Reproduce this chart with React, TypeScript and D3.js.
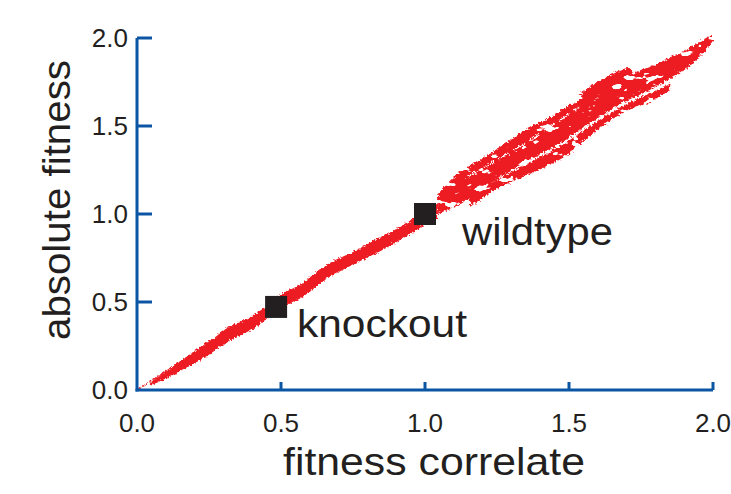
import React from "react";
import * as d3 from "d3";

// ---- data (data units) ----
const xTicks = [0, 0.5, 1.0, 1.5, 2.0];
const yTicks = [0, 0.5, 1.0, 1.5, 2.0];

// red point cloud, described as strands: [x, yLow, yHigh]
const lowerBand: [number, number, number][] = [
  [0.045, 0.023, 0.04],
  [0.097, 0.062, 0.102],
  [0.149, 0.108, 0.162],
  [0.208, 0.159, 0.232],
  [0.271, 0.225, 0.3],
  [0.323, 0.282, 0.362],
  [0.392, 0.338, 0.414],
  [0.444, 0.396, 0.47],
  [0.497, 0.47, 0.54],
  [0.566, 0.52, 0.6],
  [0.67, 0.643, 0.722],
  [0.757, 0.718, 0.79],
  [0.844, 0.788, 0.868],
  [0.913, 0.852, 0.925],
  [0.983, 0.922, 0.998],
  [1.042, 0.977, 1.05],
];
const mainBand: [number, number, number][] = [
  [1.042, 1.0, 1.1],
  [1.087, 1.03, 1.19],
  [1.132, 1.07, 1.25],
  [1.191, 1.12, 1.305],
  [1.25, 1.2, 1.37],
  [1.3125, 1.26, 1.44],
  [1.365, 1.31, 1.495],
  [1.434, 1.37, 1.55],
  [1.479, 1.41, 1.595],
  [1.573, 1.515, 1.68],
  [1.677, 1.623, 1.765],
  [1.792, 1.714, 1.845],
  [1.91, 1.83, 1.935],
  [1.972, 1.928, 1.994],
  [2.0, 1.985, 2.017],
];
const lowerStrand: [number, number, number][] = [
  [1.156, 1.04, 1.1],
  [1.25, 1.145, 1.195],
  [1.365, 1.228, 1.295],
  [1.479, 1.32, 1.395],
  [1.573, 1.445, 1.5],
  [1.677, 1.565, 1.605],
  [1.792, 1.646, 1.695],
  [1.851, 1.703, 1.737],
];
const offshoot: [number, number, number][] = [
  [1.531, 1.63, 1.675],
  [1.59, 1.67, 1.742],
  [1.642, 1.705, 1.788],
  [1.705, 1.773, 1.83],
  [1.719, 1.795, 1.818],
];
// white gaps inside the cloud: [x, y]
const innerGap: [number, number][] = [
  [1.146, 1.21],
  [1.365, 1.42],
  [1.538, 1.608],
];
// thin line from the origin
const thinLine: [number, number][] = [
  [0, 0],
  [0.22, 0.235],
];
// highlighted genotypes
const markers = [
  { name: "knockout", x: 0.483, y: 0.472 },
  { name: "wildtype", x: 1.0, y: 1.0 },
];

const W = 731;
const H = 494;
const AXIS = "#0b56a4";
const RED = "#ed1c24";
const INK = "#231f20";
const FONT = "'Liberation Sans', Arial, Helvetica, sans-serif";

export default function App() {
  const x = d3.scaleLinear().domain([0, 2]).range([137, 713]);
  const y = d3.scaleLinear().domain([0, 2]).range([390, 38]);

  const area = d3
    .area<[number, number, number]>()
    .x((d) => x(d[0]))
    .y0((d) => y(d[1]))
    .y1((d) => y(d[2]))
    .curve(d3.curveCatmullRom);
  const line = d3
    .line<[number, number]>()
    .x((d) => x(d[0]))
    .y((d) => y(d[1]));
  const smooth = d3
    .line<[number, number]>()
    .x((d) => x(d[0]))
    .y((d) => y(d[1]))
    .curve(d3.curveCatmullRom);

  const sq = 22;

  return (
    <svg
      width={W}
      height={H}
      style={{ position: "absolute", left: 0, top: 0, background: "#fff" }}
      fontFamily={FONT}
    >
      <defs>
        <filter id="rough" x="-5%" y="-5%" width="110%" height="110%">
          <feTurbulence type="fractalNoise" baseFrequency="0.45" numOctaves="2" seed="3" result="n" />
          <feDisplacementMap in="SourceGraphic" in2="n" scale="5" xChannelSelector="R" yChannelSelector="G" />
        </filter>
        <filter id="roughHoles" x="-5%" y="-5%" width="110%" height="110%">
          <feTurbulence type="fractalNoise" baseFrequency="0.45" numOctaves="2" seed="3" result="n" />
          <feDisplacementMap in="SourceGraphic" in2="n" scale="6" xChannelSelector="R" yChannelSelector="G" result="d" />
          <feTurbulence type="fractalNoise" baseFrequency="0.07 0.12" numOctaves="3" seed="11" result="n2" />
          <feColorMatrix
            in="n2"
            type="matrix"
            values="0 0 0 0 0  0 0 0 0 0  0 0 0 0 0  -22 0 0 0 15.2"
            result="mask"
          />
          <feComposite in="d" in2="mask" operator="in" />
        </filter>
      </defs>

      {/* red cloud */}
      <g filter="url(#rough)">
        <path d={line(thinLine) ?? ""} stroke={RED} strokeWidth={1} fill="none" />
        <path d={area(lowerBand) ?? ""} fill={RED} />
      </g>
      <g filter="url(#roughHoles)">
        <path d={area(mainBand) ?? ""} fill={RED} />
        <path d={area(lowerStrand) ?? ""} fill={RED} />
        <path d={area(offshoot) ?? ""} fill={RED} />
        <path
          d={smooth(innerGap) ?? ""}
          stroke="#fff"
          strokeWidth={1.5}
          strokeDasharray="12 6"
          fill="none"
        />
      </g>

      {/* markers */}
      {markers.map((m) => (
        <rect key={m.name} x={x(m.x) - sq / 2} y={y(m.y) - sq / 2} width={sq} height={sq} fill={INK} />
      ))}
      <text x={462} y={245} fontSize={39} fill={INK} textLength={151} lengthAdjust="spacingAndGlyphs">
        wildtype
      </text>
      <text x={297} y={337} fontSize={39} fill={INK} textLength={170} lengthAdjust="spacingAndGlyphs">
        knockout
      </text>

      {/* axes */}
      <g stroke={AXIS} strokeWidth={3} fill="none">
        <line x1={x(0)} x2={x(0)} y1={y(2)} y2={y(0) + 1.5} />
        <line x1={x(0) - 1.5} x2={x(2)} y1={y(0)} y2={y(0)} />
        {yTicks
          .filter((t) => t > 0)
          .map((t) => (
            <line key={"yt" + t} x1={x(0)} x2={x(0) + 15} y1={y(t)} y2={y(t)} />
          ))}
        {xTicks
          .filter((t) => t > 0)
          .map((t) => (
            <line key={"xt" + t} x1={x(t)} x2={x(t)} y1={y(0)} y2={y(0) - 8} />
          ))}
      </g>
      {yTicks.map((t) => (
        <text key={"yl" + t} x={128} y={y(t) + 9} fontSize={26} fill={INK} textAnchor="end">
          {t.toFixed(1)}
        </text>
      ))}
      {xTicks.map((t) => (
        <text key={"xl" + t} x={x(t)} y={432} fontSize={26} fill={INK} textAnchor="middle">
          {t.toFixed(1)}
        </text>
      ))}

      {/* axis titles */}
      <text x={283} y={475} fontSize={39} fill={INK} textLength={302} lengthAdjust="spacingAndGlyphs">
        fitness correlate
      </text>
      <text
        transform="translate(70,340) rotate(-90)"
        fontSize={39}
        fill={INK}
        textLength={280}
        lengthAdjust="spacingAndGlyphs"
      >
        absolute fitness
      </text>
    </svg>
  );
}
